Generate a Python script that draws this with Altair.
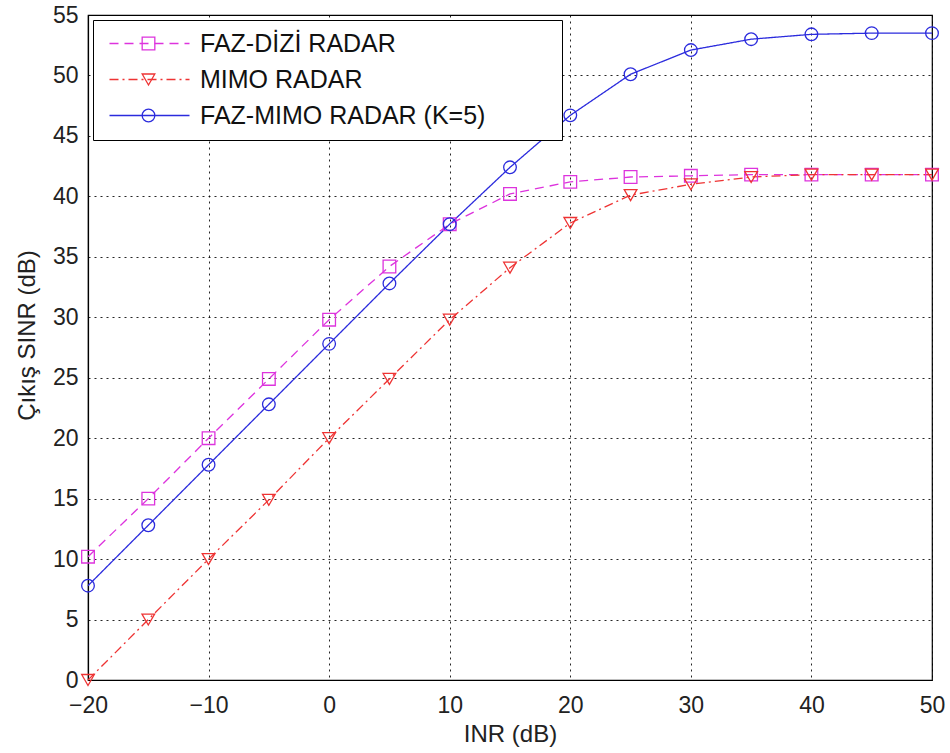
import altair as alt
import pandas as pd

# ---- data ----
inr = [-20, -15, -10, -5, 0, 5, 10, 15, 20, 25, 30, 35, 40, 45, 50]
faz_dizi = [10.2, 15.0, 20.0, 24.9, 29.8, 34.2, 37.7, 40.2, 41.2, 41.6, 41.7, 41.8, 41.8, 41.8, 41.8]
mimo = [0.0, 5.0, 10.0, 14.9, 20.0, 24.9, 29.8, 34.1, 37.8, 40.1, 41.0, 41.6, 41.8, 41.8, 41.8]
faz_mimo = [7.8, 12.8, 17.8, 22.8, 27.8, 32.8, 37.7, 42.4, 46.7, 50.1, 52.1, 53.0, 53.4, 53.5, 53.5]

series_names = ["FAZ-DİZİ RADAR", "MIMO RADAR", "FAZ-MIMO RADAR (K=5)"]
x_ticks = [-20, -10, 0, 10, 20, 30, 40, 50]
y_ticks = [0, 5, 10, 15, 20, 25, 30, 35, 40, 45, 50, 55]

# ---- styles ----
colors = ["#dd33dd", "#ee3333", "#2b2bdd"]
dashes = [[9, 6], [9, 4, 2, 4], [1, 0]]
shapes = ["square", "triangle-down", "circle"]
FONT = "Liberation Sans"

rows = []
for name, vals in zip(series_names, [faz_dizi, mimo, faz_mimo]):
    for xv, yv in zip(inr, vals):
        rows.append({"inr": xv, "sinr": yv, "series": name})
df = pd.DataFrame(rows)

x_enc = alt.X(
    "inr:Q",
    scale=alt.Scale(domain=[-20, 50], nice=False, zero=False),
    axis=alt.Axis(values=x_ticks, title="INR (dB)", labelPadding=14, titlePadding=5,
                  labelFlush=False),
)
y_enc = alt.Y(
    "sinr:Q",
    scale=alt.Scale(domain=[0, 55], nice=False),
    axis=alt.Axis(values=y_ticks, title="Çıkış SINR (dB)", labelPadding=10, titlePadding=13,
                  labelFlush=False, titleY=320),
)

common_leg = dict(
    orient="none", legendX=5, legendY=5, title=None,
    labelFont=FONT, labelFontSize=25, labelColor="#111", labelLimit=800,
    padding=11, rowPadding=10, symbolStrokeWidth=1.3,
)

# line + label legend (drawn on top, no box)
leg_lines = alt.Legend(
    symbolType="M-8,0H8", symbolSize=100, symbolOffset=33, labelOffset=38,
    zindex=2, **common_leg,
)
# marker legend (drawn beneath, carries the white framed box)
leg_points = alt.Legend(
    symbolSize=160, symbolOffset=32, labelOffset=390, labelExpr="''",
    fillColor="white", strokeColor="black", zindex=1, **common_leg,
)

lines = alt.Chart(df).mark_line(strokeWidth=1.3).encode(
    x=x_enc,
    y=y_enc,
    color=alt.Color("series:N", scale=alt.Scale(domain=series_names, range=colors), legend=leg_lines),
    strokeDash=alt.StrokeDash("series:N", scale=alt.Scale(domain=series_names, range=dashes), legend=leg_lines),
)

points = alt.Chart(df).mark_point(filled=False, size=160, strokeWidth=1.3, opacity=1).encode(
    x=x_enc,
    y=y_enc,
    color=alt.Color("series:N", scale=alt.Scale(domain=series_names, range=colors), legend=leg_points),
    shape=alt.Shape("series:N", scale=alt.Scale(domain=series_names, range=shapes), legend=leg_points),
)

chart = (
    alt.layer(lines, points)
    .resolve_scale(color="independent", strokeDash="independent", shape="independent")
    .properties(
        width=844,
        height=665,
        padding={"left": 88, "top": 15, "right": 18, "bottom": 73},
        autosize=alt.AutoSizeParams(type="none"),
        background="white",
    )
    .configure_view(stroke="black", strokeWidth=1.2)
    .configure_axis(
        domainColor="black",
        domainWidth=1.2,
        grid=True,
        gridColor="black",
        gridDash=[2, 4],
        gridWidth=1,
        gridOpacity=0.85,
        ticks=False,
        labelFont=FONT,
        labelFontSize=23,
        labelColor="#222",
        titleFont=FONT,
        titleFontSize=24,
        titleFontWeight="normal",
        titleColor="#222",
    )
)

chart.save("out.html", embed_options={"renderer": "svg", "actions": False})
